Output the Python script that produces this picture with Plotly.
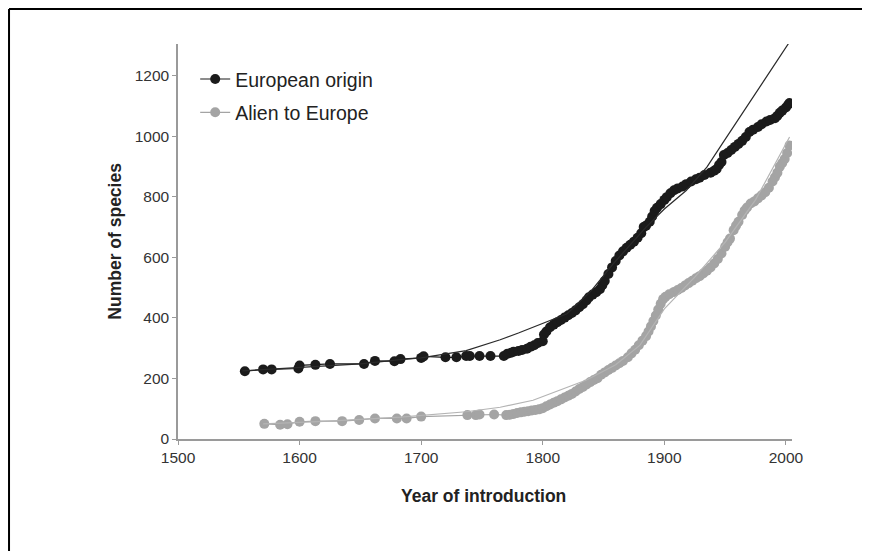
import plotly.graph_objects as go

# European origin: observed cumulative counts
eu_years = [1555, 1570, 1577, 1599, 1600, 1613, 1625, 1653, 1662, 1678, 1683, 1700, 1702,
            1720, 1729, 1737, 1740, 1748, 1757, 1768, 1771, 1774, 1776, 1780, 1783, 1787,
            1790, 1793, 1796, 1800, 1801, 1803, 1806, 1809, 1812, 1815, 1818, 1821, 1824,
            1827, 1830, 1833, 1836, 1838, 1841, 1844, 1847, 1849, 1851, 1854, 1857, 1860,
            1863, 1866, 1869, 1872, 1875, 1878, 1881, 1883, 1885, 1888, 1890, 1892, 1894,
            1897, 1900, 1902, 1905, 1908, 1911, 1915, 1918, 1922, 1926, 1929, 1933, 1938,
            1941, 1943, 1945, 1947, 1949, 1952, 1955, 1958, 1961, 1964, 1967, 1970, 1973,
            1977, 1980, 1984, 1987, 1991, 1993, 1995, 1997, 2000, 2002, 2003]
eu_values = [224, 230, 230, 233, 243, 245, 248, 248, 258, 257, 264, 268, 273,
             270, 270, 274, 274, 274, 274, 274, 282, 285, 288, 291, 294, 298,
             305, 310, 317, 323, 345, 355, 369, 378, 386, 393, 401, 409, 416,
             425, 435, 445, 458, 468, 477, 485, 495, 508, 522, 545, 567, 588,
             606, 620, 632, 642, 652, 665, 680, 700, 705, 718, 735, 753, 764,
             776, 790, 799, 812, 822, 828, 834, 842, 851, 858, 863, 872, 880,
             886, 892, 905, 915, 938, 945, 955, 965, 975, 985, 998, 1014, 1022,
             1031, 1040, 1049, 1054, 1060, 1068, 1078, 1085, 1095, 1105, 1110]

# European origin: fitted model curve
eu_fit_years = [1553, 1600, 1650, 1683, 1700, 1737, 1765, 1780, 1800, 1820, 1840, 1858,
                1885, 1900, 1918, 1935, 1950, 1975, 2003]
eu_fit_values = [225, 235, 248, 262, 268, 292, 328, 350, 382, 414, 490, 579,
                 700, 760, 821, 898, 990, 1142, 1312]

# Alien to Europe: observed cumulative counts
al_years = [1571, 1584, 1590, 1600, 1613, 1635, 1649, 1662, 1680, 1688, 1700, 1738, 1745,
            1748, 1760, 1770, 1773, 1776, 1779, 1782, 1785, 1788, 1791, 1794, 1797, 1800,
            1803, 1806, 1809, 1812, 1815, 1818, 1821, 1824, 1827, 1830, 1833, 1836, 1839,
            1842, 1845, 1848, 1851, 1854, 1857, 1860, 1863, 1866, 1870, 1873, 1876, 1879,
            1882, 1885, 1887, 1889, 1891, 1893, 1895, 1897, 1899, 1901, 1904, 1908, 1911,
            1914, 1917, 1920, 1923, 1926, 1929, 1932, 1935, 1938, 1941, 1944, 1947, 1950,
            1952, 1954, 1957, 1959, 1961, 1964, 1966, 1968, 1971, 1974, 1977, 1980, 1983,
            1986, 1989, 1991, 1993, 1995, 1997, 1999, 2001, 2003]
al_values = [50, 47, 49, 57, 59, 59, 63, 68, 68, 68, 74, 79, 79,
             81, 81, 79, 80, 83, 86, 88, 90, 92, 94, 96, 98, 102,
             108, 114, 120, 125, 131, 137, 143, 149, 157, 165, 172, 180, 188,
             195, 201, 212, 220, 228, 235, 243, 250, 258, 270, 283, 295, 310,
             325, 340, 355, 372, 390, 408, 428, 447, 462, 470, 478, 486, 492,
             499, 507, 515, 523, 531, 538, 547, 556, 567, 580, 595, 613, 635,
             650, 662, 690, 705, 718, 740, 755, 765, 778, 785, 795, 805, 815,
             830, 851, 865, 880, 900, 912, 925, 945, 970]

# Alien to Europe: fitted model curve
al_fit_years = [1570, 1620, 1683, 1737, 1765, 1792, 1836, 1860, 1880, 1900, 1925, 1950,
                1975, 2003]
al_fit_values = [50, 58, 72, 90, 105, 128, 195, 245, 310, 430, 535, 650, 790, 998]

x_ticks = [1500, 1600, 1700, 1800, 1900, 2000]
y_ticks = [0, 200, 400, 600, 800, 1000, 1200]

BLACK = "#1b1b1b"
GREY = "#a4a4a4"
FONT = "Liberation Sans, Arial, sans-serif"

fig = go.Figure()

fig.add_trace(go.Scatter(x=eu_years, y=eu_values, mode="lines+markers",
                         name="European origin", legendgroup="a",
                         line=dict(color=BLACK, width=1.2),
                         marker=dict(color=BLACK, size=10)))
fig.add_trace(go.Scatter(x=al_years, y=al_values, mode="lines+markers",
                         name="Alien to Europe", legendgroup="b",
                         line=dict(color=GREY, width=1.2),
                         marker=dict(color=GREY, size=10)))
fig.add_trace(go.Scatter(x=al_fit_years, y=al_fit_values, mode="lines",
                         line=dict(color="#b4b4b4", width=1.2), showlegend=False,
                         legendgroup="b", hoverinfo="skip"))
fig.add_trace(go.Scatter(x=eu_fit_years, y=eu_fit_values, mode="lines",
                         line=dict(color="#2a2a2a", width=1.2), showlegend=False,
                         legendgroup="a", hoverinfo="skip"))

axis_common = dict(showgrid=False, zeroline=False, showline=True,
                   linecolor="#9a9a9a", linewidth=1.5, ticks="outside",
                   ticklen=4, tickwidth=1.2, tickcolor="#9a9a9a",
                   tickfont=dict(family=FONT, size=15.5, color="#333333"))

frame = dict(color="black", width=2)
fig.update_layout(
    width=862, height=543,
    margin=dict(l=170, r=78, t=36, b=112),
    paper_bgcolor="white", plot_bgcolor="white",
    xaxis=dict(range=[1500, 2005], tickvals=x_ticks, **axis_common),
    yaxis=dict(range=[0, 1305], tickvals=y_ticks, **axis_common),
    legend=dict(x=0.028, y=0.96, xanchor="left", yanchor="top",
                traceorder="grouped", tracegroupgap=5,
                font=dict(family=FONT, size=19.5, color="#222222"),
                bgcolor="rgba(0,0,0,0)"),
    showlegend=True,
    annotations=[
        dict(text="<b>Year of introduction</b>", xref="paper", yref="paper",
             x=0.497, y=-0.1445, xanchor="center", yanchor="middle", showarrow=False,
             font=dict(family=FONT, size=17.5, color="#222222")),
        dict(text="<b>Number of species</b>", xref="paper", yref="paper",
             x=-0.104, y=0.5, xanchor="center", yanchor="middle", showarrow=False,
             textangle=-90, font=dict(family=FONT, size=17.5, color="#222222")),
    ],
    shapes=[
        dict(type="line", xref="paper", yref="paper", x0=-0.2752, x1=1.1205,
             y0=1.0886, y1=1.0886, line=frame),
        dict(type="line", xref="paper", yref="paper", x0=-0.2752, x1=-0.2752,
             y0=1.0886, y1=-0.29, line=frame),
        dict(type="line", xref="paper", yref="paper", x0=1.1205, x1=1.1205,
             y0=1.0886, y1=-0.29, line=frame),
    ],
)

fig.write_html("out.html")
